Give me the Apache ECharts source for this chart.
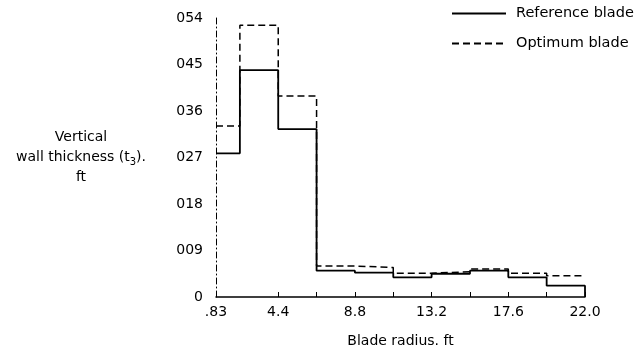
<!DOCTYPE html>
<html><head><meta charset="utf-8">
<script src="https://cdn.jsdelivr.net/npm/echarts@6/dist/echarts.min.js"></script>
<style>html,body{margin:0;padding:0;background:#fff}#c{width:644px;height:355px}</style>
</head><body><div id="c"></div>
<script>
// Blade radius segment edges (ft)
const radiusEdges = [0.83, 2.2, 4.4, 6.6, 8.8, 11.0, 13.2, 15.4, 17.6, 19.8, 22.0];
// Vertical wall thickness per segment (ft)
const referenceBlade = [0.0278, 0.0439, 0.0325, 0.0051, 0.0047, 0.0038, 0.0045, 0.0051, 0.0038, 0.0022];
const optimumBlade   = [0.0331, 0.0526, 0.0389, 0.0060, 0.0057, 0.0046, 0.0049, 0.0054, 0.0046, 0.0041];
// Axis labels
const xTickValues = [0.83, 4.4, 8.8, 13.2, 17.6, 22.0];
const xTickLabels = ['.83', '4.4', '8.8', '13.2', '17.6', '22.0'];
const xMinorTicks = [4.4, 6.6, 8.8, 11.0, 13.2, 15.4, 17.6, 19.8, 22.0];
const yTickValues = [0, 0.009, 0.018, 0.027, 0.036, 0.045, 0.054];
const yTickLabels = ['0', '009', '018', '027', '036', '045', '054'];

function stepPoints(vals, dropToZero) {
  const pts = vals.map((v, i) => [radiusEdges[i], v]);
  pts.push([radiusEdges[radiusEdges.length - 1], vals[vals.length - 1]]);
  if (dropToZero) pts.push([radiusEdges[radiusEdges.length - 1], 0]);
  return pts;
}

const font = 'DejaVu Sans, Arial, sans-serif';
const chart = echarts.init(document.getElementById('c'), null, {renderer: 'canvas'});
chart.setOption({
  animation: false,
  backgroundColor: '#fff',
  textStyle: {fontFamily: font, color: '#000'},
  grid: {left: 216, right: 59, top: 18, bottom: 58},
  legend: {
    orient: 'vertical', left: 446, top: 1, itemWidth: 54, itemHeight: 14, itemGap: 15,
    itemStyle: {opacity: 0, borderWidth: 0},
    textStyle: {fontFamily: font, fontSize: 14.5, color: '#000', padding: [0, 0, 0, 5]},
    data: ['Reference blade', 'Optimum blade']
  },
  xAxis: {
    type: 'value', min: 0.83, max: 22.0,
    name: 'Blade radius. ft', nameLocation: 'middle', nameGap: 37,
    nameTextStyle: {fontFamily: font, fontSize: 14, color: '#000'},
    axisLine: {lineStyle: {color: '#000', width: 1.5}},
    axisTick: {show: true, inside: true, length: 5, customValues: xMinorTicks, lineStyle: {color: '#000'}},
    axisLabel: {customValues: xTickValues, color: '#000', fontSize: 14, fontFamily: font, margin: 8,
      formatter: v => { const i = xTickValues.findIndex(t => Math.abs(t - v) < 1e-6); return i >= 0 ? xTickLabels[i] : ''; }},
    splitLine: {show: false}
  },
  yAxis: {
    type: 'value', min: 0, max: 0.054, interval: 0.009,
    name: 'Vertical\nwall thickness (t{sub|3}).\nft', nameLocation: 'middle', nameRotate: 0, nameGap: 135,
    nameTextStyle: {fontFamily: font, fontSize: 14, color: '#000', align: 'center', lineHeight: 20,
      rich: {sub: {fontSize: 10, verticalAlign: 'bottom', padding: [7, 0, 0, 0], fontFamily: font}}},
    axisLine: {show: true, lineStyle: {color: '#000', width: 1, type: [6, 3, 1, 3]}},
    axisTick: {show: false},
    axisLabel: {color: '#000', fontSize: 14, fontFamily: font, margin: 13,
      formatter: v => { const i = yTickValues.findIndex(t => Math.abs(t - v) < 1e-7); return i >= 0 ? yTickLabels[i] : ''; }},
    splitLine: {show: false}
  },
  series: [
    {name: 'Reference blade', type: 'line', step: 'end', symbol: 'none', showSymbol: false,
     data: stepPoints(referenceBlade, true), lineStyle: {color: '#000', width: 1.8, type: 'solid'}, itemStyle: {color: '#000'}},
    {name: 'Optimum blade', type: 'line', step: 'end', symbol: 'none', showSymbol: false,
     data: stepPoints(optimumBlade, false), lineStyle: {color: '#000', width: 1.5, type: [7, 4]}, itemStyle: {color: '#000'}}
  ]
});
</script></body></html>
